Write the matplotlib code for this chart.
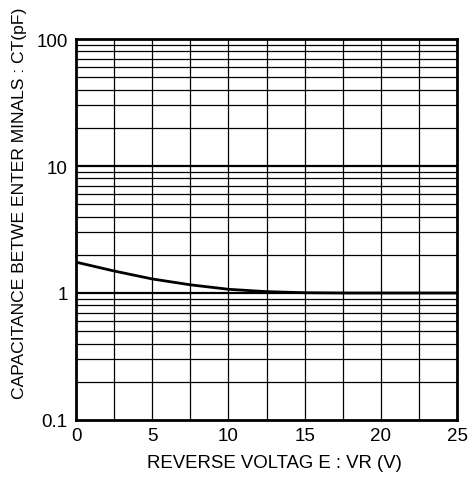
import numpy as np
import matplotlib
matplotlib.use('Agg')
import matplotlib.pyplot as plt

plt.rcParams['font.family'] = ['Liberation Sans', 'DejaVu Sans']

# 曲线数据
vr = [0, 2.5, 5, 7.5, 10, 12.5, 15, 17.5, 20, 22.5, 25]
ct = [1.75, 1.49, 1.29, 1.16, 1.07, 1.025, 1.005, 1.0, 1.0, 1.0, 1.0]

x_ticks = [0, 5, 10, 15, 20, 25]
y_ticks = [0.1, 1, 10, 100]
y_labels = ['0.1', '1', '10', '100']

fig = plt.figure(figsize=(4.71, 4.81), dpi=100)
ax = fig.add_axes([76/471, 1-421/481, 381/471, 381/481])

ax.set_yscale('log')
ax.set_xlim(0, 25)
ax.set_ylim(0.1, 100)

# 网格
for xv in np.arange(2.5, 25, 2.5):
    ax.axvline(xv, color='black', linewidth=0.9)
for dec in [0.1, 1, 10]:
    for m in range(2, 10):
        ax.axhline(dec*m, color='black', linewidth=0.9)
for yv in [1, 10]:
    ax.axhline(yv, color='black', linewidth=1.6)

# 曲线
ax.plot(vr, ct, color='black', linewidth=2.0)

ax.set_xticks(x_ticks)
ax.set_xticklabels([str(v) for v in x_ticks])
ax.set_yticks(y_ticks)
ax.set_yticklabels(y_labels)
ax.yaxis.set_minor_locator(matplotlib.ticker.NullLocator())
ax.tick_params(length=0, labelsize=13.5)
ax.tick_params(axis='y', pad=6)
ax.tick_params(axis='x', pad=5)

for s in ax.spines.values():
    s.set_linewidth(2.0)

fig.text(274/471, 1-464/481, 'REVERSE VOLTAG E : VR (V)', fontsize=13.4,
         ha='center', va='center')
fig.text(20/471, 1-203/481, 'CAPACITANCE BETWE ENTER MINALS : CT(pF)',
         fontsize=12.6, rotation=90, ha='center', va='center')

fig.savefig('out.png', dpi=100)
